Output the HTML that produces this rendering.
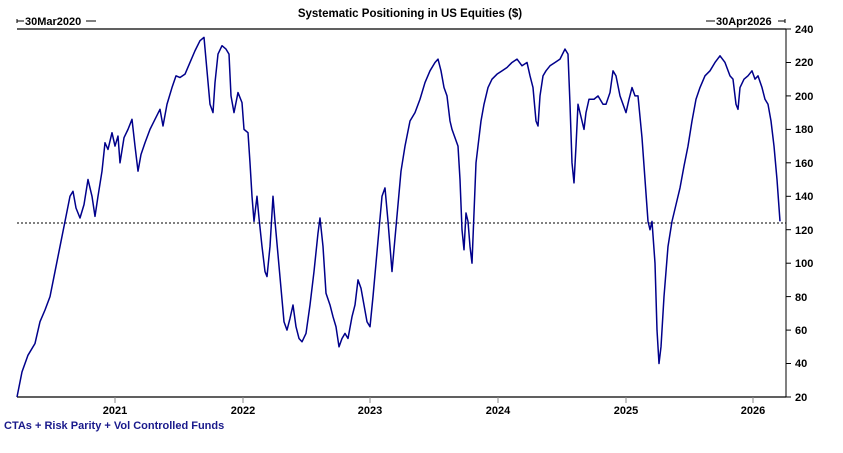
<!DOCTYPE html>
<html><head><meta charset="utf-8"><style>
body{margin:0;background:#fff;width:843px;height:448px;overflow:hidden}
svg{font-family:"Liberation Sans",Arial,sans-serif;font-weight:bold;font-size:11px}
</style></head><body>
<svg width="843" height="448" viewBox="0 0 843 448">
<text x="410" y="17" text-anchor="middle" font-size="11.5">Systematic Positioning in US Equities ($)</text>
<g stroke="#000" stroke-width="1">
<line x1="17" y1="19" x2="17" y2="23"/><line x1="17" y1="21" x2="24" y2="21"/><line x1="86" y1="21" x2="96" y2="21"/>
<line x1="706" y1="21" x2="715" y2="21"/><line x1="778" y1="21" x2="785" y2="21"/><line x1="785" y1="19" x2="785" y2="23"/>
</g>
<text x="25" y="25">30Mar2020</text>
<text x="716" y="25">30Apr2026</text>
<line x1="17" y1="29" x2="786" y2="29" stroke="#000" stroke-width="1.2"/>
<line x1="17" y1="397" x2="786" y2="397" stroke="#000" stroke-width="1.2"/>
<line x1="786" y1="29" x2="786" y2="397" stroke="#000" stroke-width="1"/>
<g stroke="#000">
<line x1="786" y1="29" x2="791" y2="29"/><line x1="786" y1="62.5" x2="791" y2="62.5"/><line x1="786" y1="95.9" x2="791" y2="95.9"/><line x1="786" y1="129.4" x2="791" y2="129.4"/><line x1="786" y1="162.8" x2="791" y2="162.8"/><line x1="786" y1="196.3" x2="791" y2="196.3"/><line x1="786" y1="229.7" x2="791" y2="229.7"/><line x1="786" y1="263.2" x2="791" y2="263.2"/><line x1="786" y1="296.6" x2="791" y2="296.6"/><line x1="786" y1="330.1" x2="791" y2="330.1"/><line x1="786" y1="363.5" x2="791" y2="363.5"/><line x1="786" y1="397" x2="791" y2="397"/>
</g>
<g font-size="11">
<text x="795" y="33">240</text><text x="795" y="66">220</text><text x="795" y="100">200</text><text x="795" y="133">180</text><text x="795" y="167">160</text><text x="795" y="200">140</text><text x="795" y="234">120</text><text x="795" y="267">100</text><text x="795" y="301">80</text><text x="795" y="334">60</text><text x="795" y="367">40</text><text x="795" y="401">20</text>
</g>
<g stroke="#888"><line x1="115" y1="397" x2="115" y2="403"/><line x1="243" y1="397" x2="243" y2="403"/><line x1="370" y1="397" x2="370" y2="403"/><line x1="498" y1="397" x2="498" y2="403"/><line x1="626" y1="397" x2="626" y2="403"/><line x1="753" y1="397" x2="753" y2="403"/></g>
<g text-anchor="middle"><text x="115" y="414">2021</text><text x="243" y="414">2022</text><text x="370" y="414">2023</text><text x="498" y="414">2024</text><text x="626" y="414">2025</text><text x="753" y="414">2026</text></g>
<text x="4" y="429" fill="#1a1a8c">CTAs + Risk Parity + Vol Controlled Funds</text>
<line x1="17" y1="223" x2="786" y2="223" stroke="#000" stroke-dasharray="2,2"/>
<g transform="matrix(1 0 0 -1.6727 0 430.45)">
<polyline fill="none" stroke="#00008b" stroke-width="1.5" vector-effect="non-scaling-stroke" stroke-linejoin="round" points="17,20 22,35 28,45 35,52 40,65 45,72 50,80 55,95 60,110 65,125 70,140 73,143 76,133 80,127 84,135 88,150 92,140 95,128 98,140 102,155 105,172 108,168 112,178 115,170 118,176 120,160 124,175 128,180 132,186 135,170 138,155 141,165 145,172 150,180 155,186 160,192 163,182 167,195 172,205 176,212 180,211 185,213 190,220 195,227 200,233 204,235 207,215 210,195 213,190 215,208 218,225 222,230 226,228 229,225 231,200 234,190 238,202 242,196 244,180 248,178 250,160 252,140 254,125 257,140 259,127 262,110 265,95 267,92 270,110 273,140 275,125 278,105 281,85 284,65 287,60 290,67 293,75 296,62 299,55 302,53 306,58 310,75 314,95 318,118 320,127 323,110 326,82 330,75 333,68 336,62 339,50 342,55 345,58 348,55 352,68 355,75 358,90 361,85 364,75 367,65 370,62 373,80 376,100 379,120 382,140 385,145 388,125 390,110 392,95 395,115 398,135 401,155 405,170 410,185 415,190 420,198 425,208 430,215 435,220 438,222 441,215 444,205 447,200 450,185 452,180 455,175 458,170 460,150 462,120 464,108 466,130 468,125 470,110 472,100 474,130 476,160 478,170 481,185 484,195 488,205 492,210 497,213 502,215 507,217 512,220 517,222 522,218 527,220 530,212 533,205 536,185 538,182 540,200 543,212 546,215 550,218 555,220 560,222 565,228 568,225 570,195 572,160 574,148 576,170 578,195 580,190 582,185 584,180 586,190 589,198 594,198 598,200 603,195 606,195 610,202 613,215 616,212 620,200 623,195 626,190 629,198 632,205 635,200 638,200 642,175 645,150 648,125 650,120 652,125 655,100 657,60 659,40 661,50 664,80 668,110 672,125 676,135 680,145 684,158 688,170 692,185 696,198 700,205 705,212 710,215 715,220 720,224 725,220 730,212 733,210 736,195 738,192 740,205 744,210 748,212 752,215 755,210 758,212 762,205 765,198 768,195 771,185 774,170 777,150 780,125"/>
</g>
</svg>
</body></html>
